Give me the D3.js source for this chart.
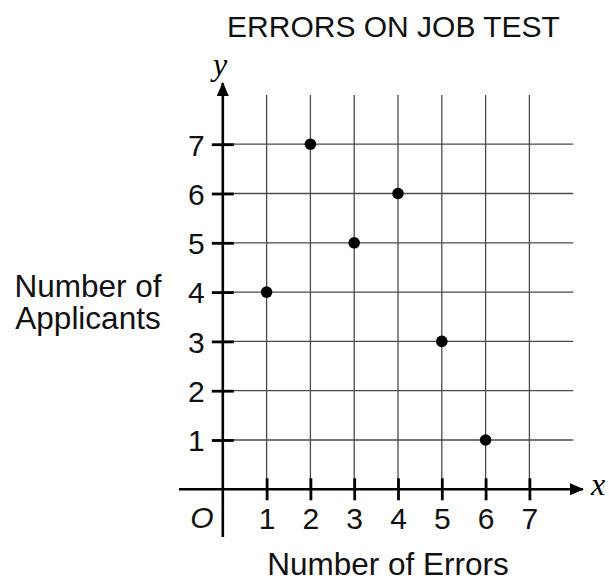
<!DOCTYPE html>
<html>
<head>
<meta charset="utf-8">
<script src="https://cdn.jsdelivr.net/npm/d3@7"></script>
<style>
    body { margin: 0; background: #fff; }
    svg { display: block; }
</style>
</head>
<body>
<div id="chart"></div>
<script>
// data
const errors = [1, 2, 3, 4, 5, 6];
const applicants = [4, 7, 5, 6, 3, 1];
const xTicks = [1, 2, 3, 4, 5, 6, 7];
const yTicks = [1, 2, 3, 4, 5, 6, 7];
const gridLines = [1, 2, 3, 4, 5, 6, 7];

const width = 609;
const height = 580;
const font = "Helvetica, Arial, 'Liberation Sans', sans-serif";
const serif = "'Liberation Serif', 'Times New Roman', serif";

const svg = d3.select("#chart").append("svg")
    .attr("width", width)
    .attr("height", height);

// scales: origin at (222.8, 489.3), one unit = 43.8 x 49.3 px
const xScale = d3.scaleLinear().domain([0, 7]).range([222.8, 529.4]);
const yScale = d3.scaleLinear().domain([0, 7]).range([489.3, 144.2]);

// arrow heads
const defs = svg.append("defs");
defs.append("marker")
    .attr("id", "arrow")
    .attr("viewBox", "0 0 14 12")
    .attr("refX", 13)
    .attr("refY", 6)
    .attr("markerWidth", 14)
    .attr("markerHeight", 12)
    .attr("markerUnits", "userSpaceOnUse")
    .attr("orient", "auto")
    .append("path")
    .attr("d", "M0,0 L14,6 L0,12 Z")
    .attr("fill", "#000");

// grid
const grid = svg.append("g").attr("stroke", "#4a4a4a").attr("stroke-width", 1.3);
grid.selectAll(".vline")
    .data(gridLines)
    .enter()
    .append("line")
    .attr("x1", d => xScale(d))
    .attr("x2", d => xScale(d))
    .attr("y1", yScale(8))
    .attr("y2", yScale(0));
grid.selectAll(".hline")
    .data(gridLines)
    .enter()
    .append("line")
    .attr("x1", xScale(0))
    .attr("x2", xScale(8))
    .attr("y1", d => yScale(d))
    .attr("y2", d => yScale(d));

// axis lines with arrows
svg.append("line")
    .attr("x1", 179).attr("x2", 583)
    .attr("y1", yScale(0)).attr("y2", yScale(0))
    .attr("stroke", "#000").attr("stroke-width", 2.6)
    .attr("marker-end", "url(#arrow)");
svg.append("line")
    .attr("x1", xScale(0)).attr("x2", xScale(0))
    .attr("y1", 537).attr("y2", 83)
    .attr("stroke", "#000").attr("stroke-width", 2.6)
    .attr("marker-end", "url(#arrow)");

// x axis ticks + labels
const xAxis = svg.append("g")
    .attr("transform", `translate(0,${yScale(0)})`)
    .call(d3.axisBottom(xScale).tickValues(xTicks).tickFormat(d3.format("d")).tickSize(11).tickPadding(7));
xAxis.select(".domain").remove();
xAxis.selectAll(".tick line")
    .attr("y1", -11)
    .attr("stroke-width", 2.8);
xAxis.selectAll(".tick text")
    .style("font-family", font)
    .style("font-size", "30px")
    .attr("fill", "#111");

// y axis ticks + labels
const yAxis = svg.append("g")
    .attr("transform", `translate(${xScale(0)},0)`)
    .call(d3.axisLeft(yScale).tickValues(yTicks).tickFormat(d3.format("d")).tickSize(11).tickPadding(7));
yAxis.select(".domain").remove();
yAxis.selectAll(".tick line")
    .attr("x1", 11)
    .attr("stroke-width", 2.8);
yAxis.selectAll(".tick text")
    .style("font-family", font)
    .style("font-size", "30px")
    .attr("dy", "0.36em")
    .attr("fill", "#111");

// points
svg.selectAll(".dot")
    .data(errors)
    .enter()
    .append("circle")
    .attr("class", "dot")
    .attr("cx", d => xScale(d))
    .attr("cy", (d, i) => yScale(applicants[i]))
    .attr("r", 5.8)
    .attr("fill", "#000");

// texts
svg.append("text")
    .attr("x", 393.5).attr("y", 37)
    .attr("text-anchor", "middle")
    .style("font-family", font).style("font-size", "30px")
    .attr("fill", "#111")
    .text("ERRORS ON JOB TEST");

svg.append("text")
    .attr("x", 388).attr("y", 575)
    .attr("text-anchor", "middle")
    .style("font-family", font).style("font-size", "31.5px")
    .attr("fill", "#111")
    .text("Number of Errors");

const yLabel = svg.append("text")
    .attr("text-anchor", "middle")
    .style("font-family", font).style("font-size", "31.5px")
    .attr("fill", "#111");
yLabel.append("tspan").attr("x", 88).attr("y", 297).text("Number of");
yLabel.append("tspan").attr("x", 88).attr("y", 329).text("Applicants");

svg.append("text")
    .attr("x", 202).attr("y", 528)
    .attr("text-anchor", "middle")
    .style("font-family", font).style("font-size", "30px")
    .style("font-style", "italic")
    .attr("fill", "#111")
    .text("O");

svg.append("text")
    .attr("x", 220).attr("y", 75)
    .attr("text-anchor", "middle")
    .style("font-family", serif).style("font-size", "32px")
    .style("font-style", "italic")
    .text("y");

svg.append("text")
    .attr("x", 598).attr("y", 495)
    .attr("text-anchor", "middle")
    .style("font-family", serif).style("font-size", "32px")
    .style("font-style", "italic")
    .text("x");
</script>
</body>
</html>
